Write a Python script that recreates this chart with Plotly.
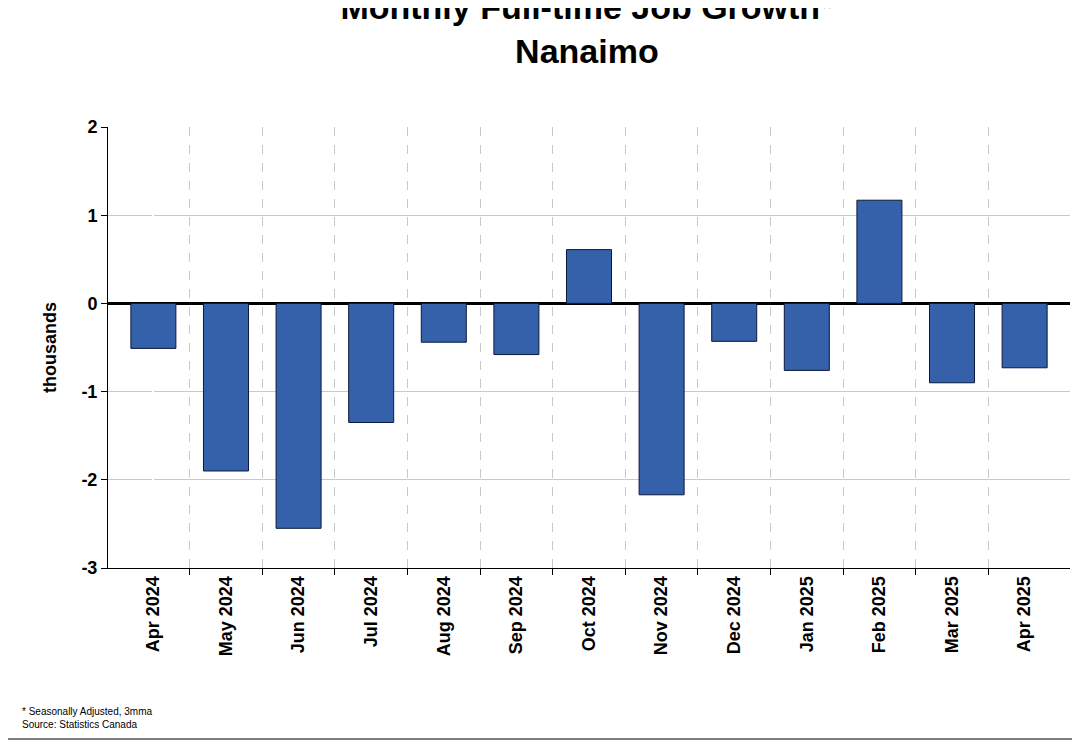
import plotly.graph_objects as go

months = ["Apr 2024", "May 2024", "Jun 2024", "Jul 2024", "Aug 2024", "Sep 2024", "Oct 2024",
          "Nov 2024", "Dec 2024", "Jan 2025", "Feb 2025", "Mar 2025", "Apr 2025"]
growth = [-0.51, -1.90, -2.55, -1.35, -0.44, -0.58, 0.61, -2.17, -0.43, -0.76, 1.17, -0.90, -0.73]
y_ticks = [-3, -2, -1, 0, 1, 2]
y_labels = ["<b>-3</b>", "<b>-2</b>", "<b>-1</b>", "<b>0</b>", "<b>1</b>", "<b>2</b>"]

pos = list(range(len(months)))
bounds = [i + 0.5 for i in pos[:-1]]

# page body has an 8px margin, so shrink the figure accordingly
W, H = 1072, 732
L, R, T, B = 100, 10, 119, 172
pw, ph = W - L - R, H - T - B

fig = go.Figure()
fig.add_trace(go.Bar(x=pos, y=growth, width=0.62,
                     marker=dict(color="#3561aa", line=dict(color="#0a1a3a", width=1))))
# dummy trace for secondary x axis (gridlines between months)
fig.add_trace(go.Scatter(x=[bounds[0]], y=[0], xaxis="x2", mode="markers",
                         marker=dict(opacity=0), hoverinfo="skip"))

font = "Liberation Sans, Arial, sans-serif"
fig.update_layout(
    width=W, height=H, margin=dict(l=L, r=R, t=T, b=B),
    paper_bgcolor="white", plot_bgcolor="white", showlegend=False,
    font=dict(family=font, color="black"),
    title=dict(text="<b>Monthly Full-time Job Growth*<br>Nanaimo</b>", x=0.54, xanchor="center",
               y=0.985, yanchor="top", font=dict(size=34)),
    xaxis=dict(range=[-0.625, 12.625], tickvals=pos, ticktext=["<b>%s</b>" % m for m in months],
               tickangle=-90, tickfont=dict(size=18), showgrid=False, ticks="", zeroline=False,
               showline=True, linecolor="black", linewidth=1),
    xaxis2=dict(range=[-0.625, 12.625], overlaying="x", side="bottom", tickvals=bounds,
                showticklabels=False, ticks="outside", ticklen=6, tickcolor="black",
                showgrid=True, gridcolor="#c8c8c8", griddash="dash", gridwidth=1),
    yaxis=dict(range=[-3, 2], tickvals=y_ticks, ticktext=y_labels, tickfont=dict(size=18),
               showgrid=True, gridcolor="#c8c8c8", ticks="outside", ticklen=6, tickcolor="black",
               showline=True, linecolor="black", linewidth=1,
               zeroline=True, zerolinecolor="black", zerolinewidth=3,
               title=dict(text="<b>thousands</b>", font=dict(size=18), standoff=20)),
)
fig.add_shape(type="rect", xref="paper", yref="paper",
              x0=-L / pw - 7 / pw, x1=1 + R / pw - 1 / pw, y0=-B / ph + 1 / ph, y1=1 + T / ph + 7 / ph,
              line=dict(color="black", width=1), layer="below")
fig.add_annotation(text="* Seasonally Adjusted, 3mma<br>Source: Statistics Canada", xref="paper", yref="paper",
                   x=-L / pw + 12 / pw, y=-B / ph + 8 / ph, xanchor="left", yanchor="bottom",
                   showarrow=False, align="left", font=dict(size=10))
fig.write_html("out.html")
